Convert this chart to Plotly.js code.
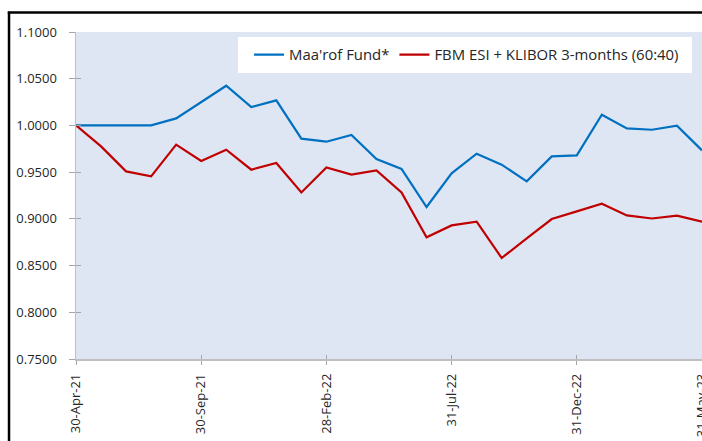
<!DOCTYPE html>
<html>
<head>
<meta charset="utf-8">
<script src="https://cdn.plot.ly/plotly-3.0.1.min.js"></script>
<style>html,body{margin:0;padding:0;background:#fff;}#chart{width:702px;height:441px;}</style>
</head>
<body>
<div id="chart"></div>
<script>
const dates = ["30-Apr-21","31-May-21","30-Jun-21","31-Jul-21","31-Aug-21","30-Sep-21","31-Oct-21","30-Nov-21","31-Dec-21",
  "31-Jan-22","28-Feb-22","31-Mar-22","30-Apr-22","31-May-22","30-Jun-22","31-Jul-22","31-Aug-22","30-Sep-22","31-Oct-22","30-Nov-22","31-Dec-22",
  "31-Jan-23","28-Feb-23","31-Mar-23","30-Apr-23","31-May-23"];
const maarofFund = [1.0000,1.0000,1.0000,1.0000,1.0075,1.0254,1.0425,1.0197,1.0268,0.9858,0.9826,0.9897,0.9641,0.9534,0.9127,0.9488,0.9697,0.9580,0.9401,0.9669,0.9680,1.0115,0.9968,0.9954,0.9997,0.9733];
const benchmark = [1.0000,0.9776,0.9508,0.9455,0.9794,0.9619,0.9740,0.9526,0.9598,0.9283,0.9551,0.9473,0.9519,0.9283,0.8802,0.8930,0.8970,0.8581,0.8790,0.8998,0.9080,0.9162,0.9037,0.9004,0.9034,0.8970];
const tickDates = ["30-Apr-21","30-Sep-21","28-Feb-22","31-Jul-22","31-Dec-22","31-May-23"];
const seriesNames = ["Maa'rof Fund*","FBM ESI + KLIBOR 3-months (60:40)"];

const font = "Open Sans, Liberation Sans, sans-serif";
const traces = [
  {x: dates, y: maarofFund, type: "scatter", mode: "lines", name: seriesNames[0], line: {color: "#0070C0", width: 2.2}},
  {x: dates, y: benchmark, type: "scatter", mode: "lines", name: seriesNames[1], line: {color: "#C00000", width: 2.2}},
  {x: dates, y: benchmark, xaxis: "x2", yaxis: "y2", type: "scatter", mode: "lines", showlegend: false, hoverinfo: "skip", line: {width: 0}, opacity: 0}
];
const layout = {
  width: 702, height: 441,
  margin: {l: 76, r: 0, t: 32, b: 82},
  paper_bgcolor: "#ffffff",
  plot_bgcolor: "#DFE6F3",
  font: {family: font, size: 13, color: "#404040"},
  showlegend: true,
  legend: {
    orientation: "h", x: 0.2764, y: 0.9297, xanchor: "left", yanchor: "middle",
    bgcolor: "rgba(0,0,0,0)", borderwidth: 0,
    font: {family: font, size: 14.9, color: "#262626"},
    itemwidth: 30, tracegroupgap: 0
  },
  xaxis: {
    type: "category", range: [0, dates.length - 1],
    tickmode: "array", tickvals: tickDates, ticktext: tickDates,
    tickangle: -90, ticks: "outside", ticklen: 4, tickcolor: "#A6A6A6", tickwidth: 1,
    showline: true, linecolor: "#BFBFBF", linewidth: 1.5,
    showgrid: false, zeroline: false,
    tickfont: {family: font, size: 13, color: "#262626"},
    ticklabelstandoff: 4
  },
  yaxis: {
    range: [0.75, 1.1], dtick: 0.05, tick0: 0.75, tickformat: ".4f",
    ticks: "outside", ticklen: 6, tickcolor: "#A6A6A6", tickwidth: 1,
    showline: true, linecolor: "#BFBFBF", linewidth: 1.5,
    showgrid: false, zeroline: false,
    tickfont: {family: font, size: 13, color: "#262626"},
    ticklabelstandoff: 9
  },
  xaxis2: {
    type: "category", range: [0, dates.length - 1], overlaying: "x",
    tickmode: "array", tickvals: tickDates, showticklabels: false,
    ticks: "inside", ticklen: 4, tickcolor: "#A6A6A6", tickwidth: 1,
    showline: false, showgrid: false, zeroline: false, side: "bottom", anchor: "y2"
  },
  yaxis2: {
    range: [0.75, 1.1], dtick: 0.05, tick0: 0.75, overlaying: "y",
    showticklabels: false, ticks: "inside", ticklen: 5, tickcolor: "#A6A6A6", tickwidth: 1,
    showline: false, showgrid: false, zeroline: false, anchor: "x2"
  },
  shapes: [
    {type: "rect", xref: "paper", yref: "paper", x0: 0.2588, x1: 0.984, y0: 0.8746, y1: 0.9847, layer: "above", fillcolor: "#ffffff", line: {width: 0}},
    {type: "line", xref: "paper", yref: "paper", x0: -0.107, x1: -0.107, y0: -0.4, y1: 1.062, line: {color: "#000000", width: 2.5}},
    {type: "line", xref: "paper", yref: "paper", x0: -0.109, x1: 1.05, y0: 1.06, y1: 1.06, line: {color: "#000000", width: 2.5}}
  ]
};
Plotly.newPlot("chart", traces, layout, {displayModeBar: false, staticPlot: true});
</script>
</body>
</html>
